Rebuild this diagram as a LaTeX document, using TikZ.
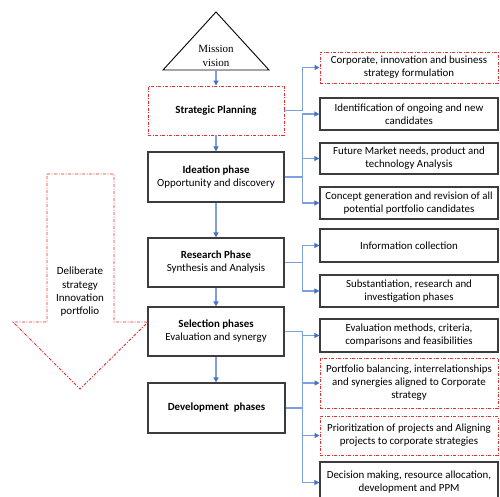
\documentclass[tikz,border=0pt]{standalone}
\usepackage{fontspec}
\setmainfont{Carlito}
\newfontfamily\timesfont{Liberation Serif}
\usetikzlibrary{arrows.meta,calc}
\definecolor{conline}{RGB}{125,160,220}
\definecolor{conhead}{RGB}{68,114,196}
\definecolor{dashred}{RGB}{225,45,45}
\definecolor{boxgray}{RGB}{60,60,60}
\begin{document}
\begin{tikzpicture}[x=1pt,y=-1pt,
  every node/.style={font=\fontsize{10.9}{13}\selectfont},
  blackbox/.style={draw=boxgray,line width=1.2pt,align=center,inner sep=0pt},
  redbox/.style={draw=dashred,line width=0.9pt,dash pattern=on 3pt off 1.5pt on 1pt off 1.5pt,align=center,inner sep=0pt},
  conn/.style={draw=conline,line width=1.3pt},
  arr/.style={conn,-{Triangle[length=5pt,width=5pt,color=conhead]}}
]
\useasboundingbox (0,0) rectangle (500,497);
\begin{scope}
\clip (0,0) rectangle (500,497);
% mission triangle
\draw[line width=0.9pt,black] (163,70) -- (216,12) -- (269,70) -- cycle;
\coordinate (tri) at (216,70);
\node[font=\fontsize{11}{13.5}\selectfont\timesfont,align=center] (mv) at (216,56) {Mission\\vision};
% central column
\node[redbox,minimum width=136pt,minimum height=49pt] (sp) at (216,110.5) {\textbf{Strategic Planning}};
\node[blackbox,minimum width=136pt,minimum height=50pt] (id) at (216,177) {\textbf{Ideation phase}\\Opportunity and discovery};
\node[blackbox,minimum width=136pt,minimum height=49pt] (rs) at (216,262.5) {\textbf{Research Phase}\\Synthesis and Analysis};
\node[blackbox,minimum width=136pt,minimum height=49pt] (sel) at (216,331.5) {\textbf{Selection phases}\\Evaluation and synergy};
\node[blackbox,minimum width=137pt,minimum height=50pt] (dev) at (216.5,408) {\textbf{Development~ phases}};
% right column
\node[redbox,minimum width=178pt,minimum height=31pt] (c1) at (409,67.5) {Corporate, innovation and business\\strategy formulation};
\node[blackbox,minimum width=178pt,minimum height=32pt] (c2) at (409,114) {Identification of ongoing and new\\candidates};
\node[blackbox,minimum width=178pt,minimum height=31pt] (c3) at (409,158.5) {Future Market needs, product and\\technology Analysis};
\node[blackbox,minimum width=178pt,minimum height=32pt] (c4) at (409,203) {Concept generation and revision of all\\potential portfolio candidates};
\node[blackbox,minimum width=178pt,minimum height=33pt] (c5) at (409,245.5) {Information collection};
\node[blackbox,minimum width=178pt,minimum height=32pt] (c6) at (409,291) {Substantiation, research and\\investigation phases};
\node[blackbox,minimum width=178pt,minimum height=33pt] (c7) at (409,335.5) {Evaluation methods, criteria,\\comparisons and feasibilities};
\node[redbox,minimum width=178pt,minimum height=50pt] (c8) at (409,383) {Portfolio balancing, interrelationships\\and synergies aligned to Corporate\\strategy};
\node[redbox,minimum width=178pt,minimum height=39pt] (c9) at (409,435.5) {Prioritization of projects and Aligning\\projects to corporate strategies};
\node[blackbox,minimum width=178pt,minimum height=41pt] (c10) at (409,482.5) {Decision making, resource allocation,\\development and PPM};
% big left arrow
\draw[draw=dashred,line width=0.9pt,dash pattern=on 3pt off 1.5pt on 1pt off 1.5pt]
  (47,174) -- (114,174) -- (114,322) -- (148,322) -- (80,389) -- (13,322) -- (47,322) -- cycle;
\node[align=center,font=\fontsize{11}{13.3}\selectfont] (dl) at (80,292) {Deliberate\\strategy\\Innovation\\portfolio};
% vertical arrows
\draw[arr] (tri) -- (sp.north);
\draw[arr] (sp.south) -- (id.north);
\draw[arr] (id.south) -- (rs.north);
\draw[arr] (rs.south) -- (sel.north);
\draw[arr] (sel.south) -- (dev.north -| sel.south);
% bus connectors
\draw[arr] (sp.east) -- ++(18,0) |- (c1.west);
\draw[arr] (id.east) -- ++(18,0) |- (c2.west);
\draw[arr] (id.east) -- ++(18,0) |- (c3.west);
\draw[arr] (id.east) -- ++(18,0) |- (c4.west);
\draw[arr] (rs.east) -- ++(18,0) |- (c5.west);
\draw[arr] (rs.east) -- ++(18,0) |- (c6.west);
\draw[arr] (sel.east) -- ++(18,0) |- (c7.west);
\draw[arr] (sel.east) -- ++(18,0) |- (c8.west);
\draw[arr] (sel.east) -- ++(18,0) |- (c9.west);
\draw[arr] (sel.east) -- ++(18,0) |- (c10.west);
\draw[conn] (dev.east) -- ++(17.5,0);
\end{scope}
\end{tikzpicture}
\end{document}
